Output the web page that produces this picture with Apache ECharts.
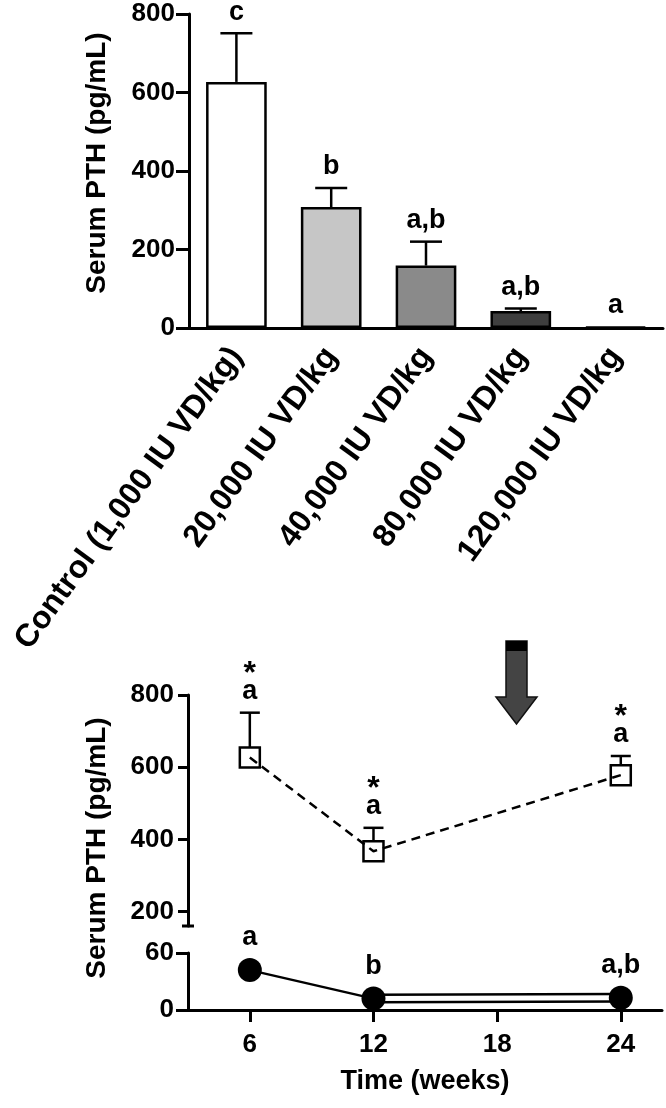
<!DOCTYPE html>
<html>
<head>
<meta charset="utf-8">
<script src="https://cdn.jsdelivr.net/npm/echarts@6/dist/echarts.min.js"></script>
<style>
html,body{margin:0;padding:0;background:#fff;}
#chart{width:666px;height:1108px;}
</style>
</head>
<body>
<div id="chart"></div>
<script>
// ---------- data ----------
const categories = ['Control (1,000 IU VD/kg)', '20,000 IU VD/kg', '40,000 IU VD/kg', '80,000 IU VD/kg', '120,000 IU VD/kg'];
const barMeans = [627, 308, 159, 43, 3];
const barSEM = [124, 49, 61, 7, 0];
const barLetters = ['c', 'b', 'a,b', 'a,b', 'a'];
const barFills = ['#ffffff', '#c6c6c6', '#8a8a8a', '#3e3e3e', '#1a1a1a'];
const yTicksBar = [0, 200, 400, 600, 800];

const weeks = [6, 12, 24];
const controlMeans = [627, 367, 578];
const controlSEM = [124, 65, 53];
const controlLetters = ['a', 'a', 'a'];
const controlStars = ['*', '*', '*'];
const highMeans = [42, 12, 13];
const highLetters = ['a', 'b', 'a,b'];
const yTicksUpper = [200, 400, 600, 800];
const yTicksLower = [0, 60];
const xTicksWeeks = [6, 12, 18, 24];
const yTitle = 'Serum PTH (pg/mL)';
const xTitle = 'Time (weeks)';

// ---------- styles ----------
const FF = '"Liberation Sans", Arial, Helvetica, sans-serif';
const BOLD = (s) => 'bold ' + s + 'px ' + FF;
const lineW = 3;
const TICKFS = 26;

const chart = echarts.init(document.getElementById('chart'));

const barData = barMeans.map((v, i) => ({
  value: v,
  itemStyle: { color: barFills[i], borderColor: '#000', borderWidth: 2.5 }
}));

const txt = (text, x, y, size) => ({
  type: 'text', x: x, y: y,
  style: { text: text, fill: '#000', font: BOLD(size), align: 'center', verticalAlign: 'middle', textAlign: 'center', textVerticalAlign: 'middle' }
});

const option = {
  animation: false,
  backgroundColor: '#fff',
  textStyle: { fontFamily: FF },
  grid: [
    { left: 189, width: 474, top: 14, height: 314 },
    { left: 188, width: 474, top: 695, height: 231 },
    { left: 188, width: 474, top: 953, height: 57 }
  ],
  xAxis: [
    {
      gridIndex: 0, type: 'category', data: categories, boundaryGap: true,
      axisLine: { lineStyle: { color: '#000', width: lineW } },
      axisTick: { alignWithLabel: true, length: 13, lineStyle: { color: '#000', width: lineW } },
      axisLabel: { rotate: 54, margin: 23, color: '#000', fontSize: 32, fontWeight: 'bold', fontFamily: FF, interval: 0 }
    },
    { gridIndex: 1, type: 'value', min: 3, max: 26, show: false },
    {
      gridIndex: 2, type: 'value', min: 3, max: 26,
      splitLine: { show: false },
      axisLine: { lineStyle: { color: '#000', width: lineW } },
      axisTick: { length: 12, customValues: xTicksWeeks, lineStyle: { color: '#000', width: lineW } },
      axisLabel: { customValues: xTicksWeeks, margin: 22, color: '#000', fontSize: TICKFS, fontWeight: 'bold', fontFamily: FF },
      name: xTitle, nameLocation: 'middle', nameGap: 58,
      nameTextStyle: { color: '#000', fontSize: 27, fontWeight: 'bold', fontFamily: FF }
    }
  ],
  yAxis: [
    {
      gridIndex: 0, type: 'value', min: 0, max: 800, interval: 200,
      splitLine: { show: false },
      axisLine: { show: true, lineStyle: { color: '#000', width: lineW } },
      axisTick: { show: true, length: 13, lineStyle: { color: '#000', width: lineW } },
      axisLabel: { customValues: yTicksBar, margin: 14, color: '#000', fontSize: TICKFS, fontWeight: 'bold', fontFamily: FF }
    },
    {
      gridIndex: 1, type: 'value', min: 160, max: 800,
      splitLine: { show: false },
      axisLine: { show: true, lineStyle: { color: '#000', width: lineW } },
      axisTick: { show: true, length: 10, customValues: yTicksUpper, lineStyle: { color: '#000', width: lineW } },
      axisLabel: { customValues: yTicksUpper, margin: 14, color: '#000', fontSize: TICKFS, fontWeight: 'bold', fontFamily: FF }
    },
    {
      gridIndex: 2, type: 'value', min: 0, max: 60, interval: 60,
      splitLine: { show: false },
      axisLine: { show: true, lineStyle: { color: '#000', width: lineW } },
      axisTick: { show: true, length: 12, customValues: yTicksLower, lineStyle: { color: '#000', width: lineW } },
      axisLabel: { customValues: yTicksLower, margin: 14, color: '#000', fontSize: TICKFS, fontWeight: 'bold', fontFamily: FF }
    }
  ],
  series: [
    // ---- top bar chart ----
    {
      type: 'bar', xAxisIndex: 0, yAxisIndex: 0, data: barData, barWidth: '64%', z: 2
    },
    {
      type: 'custom', xAxisIndex: 0, yAxisIndex: 0, z: 3,
      data: barMeans.map((m, i) => [i, m, barSEM[i]]),
      renderItem: function (params, api) {
        const i = api.value(0), m = api.value(1), s = api.value(2);
        const p0 = api.coord([i, m]);
        const p1 = api.coord([i, m + s]);
        const children = [];
        if (s > 0) {
          children.push({ type: 'line', shape: { x1: p0[0], y1: p0[1], x2: p1[0], y2: p1[1] }, style: { stroke: '#000', lineWidth: 2.5 } });
          children.push({ type: 'line', shape: { x1: p1[0] - 16, y1: p1[1], x2: p1[0] + 16, y2: p1[1] }, style: { stroke: '#000', lineWidth: 2.5 } });
        }
        children.push(txt(barLetters[params.dataIndex], p1[0], p1[1] - 21, 27));
        return { type: 'group', children: children };
      }
    },
    // ---- bottom upper segment: control (dashed, open squares) ----
    {
      type: 'line', xAxisIndex: 1, yAxisIndex: 1, z: 3,
      data: weeks.map((w, i) => [w, controlMeans[i]]),
      symbol: 'rect', symbolSize: 20,
      itemStyle: { color: 'rgba(255,255,255,0)', borderColor: '#000', borderWidth: 2.5 },
      lineStyle: { color: '#000', width: 2.5, type: [9, 6] }
    },
    {
      type: 'custom', xAxisIndex: 1, yAxisIndex: 1, z: 4,
      data: weeks.map((w, i) => [w, controlMeans[i], controlSEM[i]]),
      renderItem: function (params, api) {
        const w = api.value(0), m = api.value(1), s = api.value(2);
        const p0 = api.coord([w, m]);
        const p1 = api.coord([w, m + s]);
        const yStart = p0[1] - 10;
        return {
          type: 'group', children: [
            { type: 'line', shape: { x1: p0[0], y1: yStart, x2: p1[0], y2: p1[1] }, style: { stroke: '#000', lineWidth: 2.5 } },
            { type: 'line', shape: { x1: p1[0] - 10, y1: p1[1], x2: p1[0] + 10, y2: p1[1] }, style: { stroke: '#000', lineWidth: 2.5 } },
            txt(controlLetters[params.dataIndex], p1[0], p1[1] - 21, 27),
            txt(controlStars[params.dataIndex], p1[0], p1[1] - 39, 32)
          ]
        };
      }
    },
    // ---- bottom lower segment: high dose (solid, filled circles) ----
    {
      type: 'line', xAxisIndex: 2, yAxisIndex: 2, z: 2, showSymbol: false, silent: true,
      data: weeks.slice(0, 2).map((w, i) => [w, highMeans[i]]),
      lineStyle: { color: '#000', width: 2.5 }
    },
    {
      type: 'line', xAxisIndex: 2, yAxisIndex: 2, z: 2, showSymbol: false, silent: true,
      data: weeks.slice(1).map((w, i) => [w, highMeans[i + 1]]),
      lineStyle: { color: '#000', width: 10 }
    },
    {
      type: 'line', xAxisIndex: 2, yAxisIndex: 2, z: 2, showSymbol: false, silent: true,
      data: weeks.slice(1).map((w, i) => [w, highMeans[i + 1]]),
      lineStyle: { color: '#fff', width: 5 }
    },
    {
      type: 'scatter', xAxisIndex: 2, yAxisIndex: 2, z: 5,
      data: weeks.map((w, i) => [w, highMeans[i]]),
      symbol: 'circle', symbolSize: 24,
      itemStyle: { color: '#000', opacity: 1 },
      label: {
        show: true, position: 'top', distance: 7,
        formatter: (p) => highLetters[p.dataIndex],
        color: '#000', fontSize: 27, fontWeight: 'bold', fontFamily: FF
      }
    }
  ],
  graphic: [
    {
      type: 'text', x: 97, y: 163, rotation: Math.PI / 2,
      style: { text: yTitle, fill: '#000', font: BOLD(28), align: 'center', verticalAlign: 'middle', textAlign: 'center', textVerticalAlign: 'middle' }
    },
    {
      type: 'text', x: 97, y: 848, rotation: Math.PI / 2,
      style: { text: yTitle, fill: '#000', font: BOLD(28), align: 'center', verticalAlign: 'middle', textAlign: 'center', textVerticalAlign: 'middle' }
    },
    {
      type: 'polygon',
      shape: { points: [[506, 641], [527, 641], [527, 697], [537, 697], [516.5, 724], [496, 697], [506, 697]] },
      style: { fill: '#444', stroke: '#111', lineWidth: 1.5 }
    },
    {
      type: 'rect', shape: { x: 506, y: 641, width: 21, height: 10 },
      style: { fill: '#000' }
    }
  ]
};

chart.setOption(option);

// axis break cap at the lower end of the upper y-axis segment
const cap = chart.convertToPixel({ xAxisIndex: 1, yAxisIndex: 1 }, [3, 160]);
chart.setOption({
  graphic: option.graphic.concat([{
    type: 'line', shape: { x1: cap[0] - 6, y1: cap[1], x2: cap[0] + 6, y2: cap[1] },
    style: { stroke: '#000', lineWidth: 3 }
  }])
});
</script>
</body>
</html>
